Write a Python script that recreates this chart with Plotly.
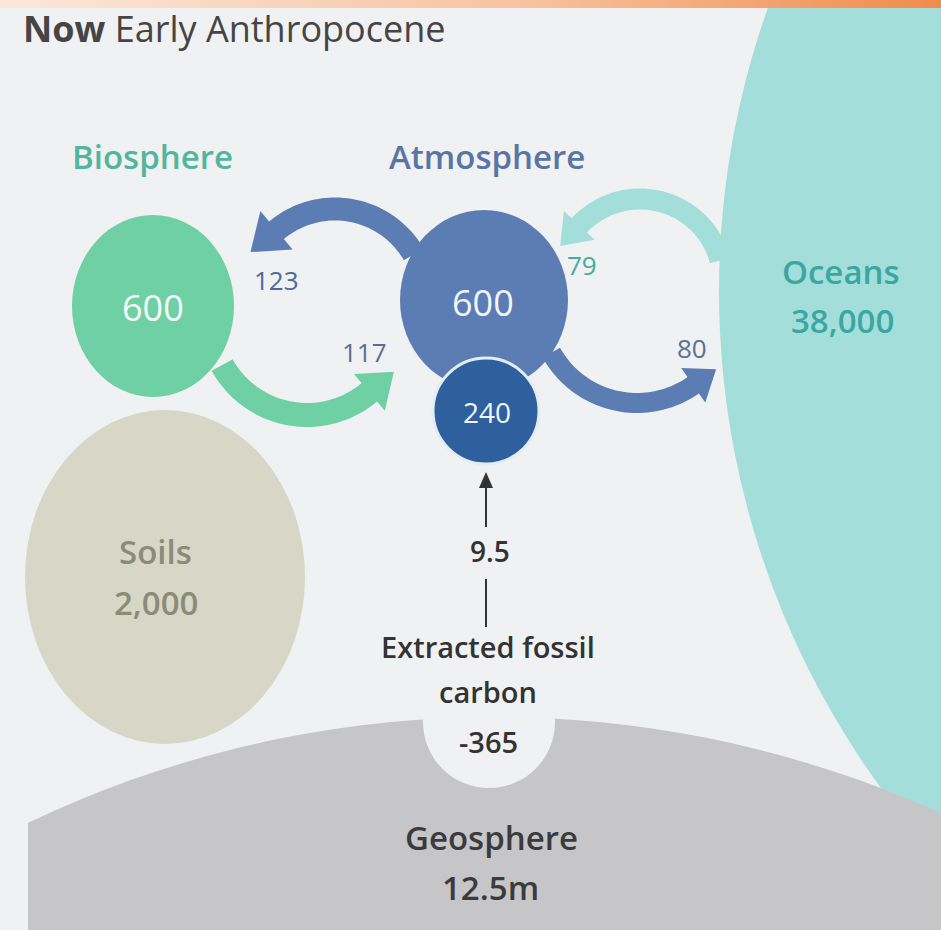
import numpy as np
import plotly.graph_objects as go

# --- data (carbon stocks and flows, GtC) ---
STOCK_NAMES = ["Biosphere", "Atmosphere", "Fossil CO2 in air", "Soils", "Oceans", "Geosphere", "Extracted fossil carbon"]
STOCK_VALUES = ["600", "600", "240", "2,000", "38,000", "12.5m", "-365"]
FLUX_NAMES = ["atmosphere->biosphere", "biosphere->atmosphere", "oceans->atmosphere", "atmosphere->oceans", "fossil->atmosphere"]
FLUX_VALUES = ["123", "117", "79", "80", "9.5"]
TITLE_BOLD = "Now"
TITLE_REST = "Early Anthropocene"

# --- layout (pixel space, y down) ---
W, H = 941, 930
FONT = "Open Sans"
BG = "#f0f1f2"
# circles: name -> (cx, cy, rx, ry, colour)
CIRCLES = {
    "Oceans": (1563, 291, 844, 844, "#a4dedb"),
    "Geosphere": (495, 1800, 1083, 1083, "#c6c6c9"),
    "Notch": (489, 722, 66, 66, BG),
    "Soils": (165, 577, 140, 167, "#d6d7c7"),
    "Biosphere": (153, 306, 81, 91, "#6fd0a5"),
    "Atmosphere": (484, 300, 84, 90, "#5b7db4"),
    "Fossil CO2 in air": (486, 411, 53, 53, "#2f609e"),
}
# arrows: (cx, cy, r, width, theta0, theta1, head_len, head_halfwidth, colour)
ARROWS = [
    (335, 300, 91, 23, 30, 130, 34, 25, "#5b7db4"),
    (307, 318, 97, 24, 209, 310, 32, 24, "#6fd0a5"),
    (640, 282, 83, 21, 15, 137, 28, 21, "#a4dedb"),
    (637, 305, 98, 20, 209, 305, 28, 21, "#5b7db4"),
]


def arc_arrow(cx, cy, r, w, t0, t1, head_len, head_w, n=50):
    ts = np.radians(np.linspace(t0, t1, n))
    ro, ri = r + w / 2, r - w / 2
    outer = [(cx + ro * np.cos(t), cy - ro * np.sin(t)) for t in ts]
    inner = [(cx + ri * np.cos(t), cy - ri * np.sin(t)) for t in ts[::-1]]
    t = ts[-1]
    s = 1 if t1 > t0 else -1
    px, py = cx + r * np.cos(t), cy - r * np.sin(t)
    ux, uy = np.cos(t), -np.sin(t)
    tx, ty = -np.sin(t) * s, -np.cos(t) * s
    head = [(px + ux * head_w, py + uy * head_w),
            (px + tx * head_len, py + ty * head_len),
            (px - ux * head_w, py - uy * head_w)]
    pts = outer + head + inner
    return "M " + " L ".join(f"{x:.1f},{y:.1f}" for x, y in pts) + " Z"


def ellipse(name, line=None):
    cx, cy, rx, ry, col = CIRCLES[name]
    return dict(type="circle", xref="x", yref="y", x0=cx - rx, x1=cx + rx, y0=cy - ry, y1=cy + ry,
                fillcolor=col, line=line or dict(width=0), layer="below")


fig = go.Figure()

# orange strip at the very top
fig.add_trace(go.Scatter(x=[0, W, W, 0, 0], y=[0, 0, 8, 8, 0], mode="lines", fill="toself",
                         line=dict(width=0), hoverinfo="skip",
                         fillgradient=dict(type="horizontal",
                                           colorscale=[[0, "#fbe7da"], [0.55, "#f7c3a0"], [1, "#ef8c4c"]])))

shapes = [ellipse("Oceans"), ellipse("Geosphere"),
          dict(type="rect", xref="x", yref="y", x0=0, x1=28, y0=700, y1=H, fillcolor=BG,
               line=dict(width=0), layer="below"),
          ellipse("Notch"), ellipse("Soils")]
for cx, cy, r, w, t0, t1, hl, hw, col in ARROWS:
    shapes.append(dict(type="path", xref="x", yref="y", path=arc_arrow(cx, cy, r, w, t0, t1, hl, hw),
                       fillcolor=col, line=dict(width=0), layer="below"))
shapes += [ellipse("Biosphere"), ellipse("Atmosphere"),
           ellipse("Fossil CO2 in air", line=dict(color="#e4ecf4", width=3))]
# fossil flux arrow into the atmosphere
shapes.append(dict(type="line", xref="x", yref="y", x0=486, x1=486, y0=527, y1=485,
                   line=dict(color="#333333", width=2)))
shapes.append(dict(type="path", xref="x", yref="y", path="M 479,488 L 486,472 L 493,488 Z",
                   fillcolor="#333333", line=dict(width=0)))
shapes.append(dict(type="line", xref="x", yref="y", x0=486, x1=486, y0=579, y1=627,
                   line=dict(color="#333333", width=2)))

# (text, x, y, size, colour, weight, anchor)
texts = [
    (f"<b>{TITLE_BOLD}</b> {TITLE_REST}", 21, 28, 36, "#454545", 400, "left"),
    (STOCK_NAMES[0], 152, 156, 33, "#52b69d", 600, "center"),
    (STOCK_NAMES[1], 487, 156, 33, "#5875a4", 600, "center"),
    (STOCK_VALUES[0], 153, 307, 36, "#f4fbf8", 400, "center"),
    (STOCK_VALUES[1], 483, 302, 36, "#f2f5fa", 400, "center"),
    (STOCK_VALUES[2], 487, 412, 28, "#f2f5fa", 400, "center"),
    (STOCK_NAMES[4], 841, 271, 33, "#3aa8a2", 600, "center"),
    (STOCK_VALUES[4], 842, 320, 33, "#3aa8a2", 600, "center"),
    (STOCK_NAMES[3], 155, 551, 33, "#8a8b79", 600, "center"),
    (STOCK_VALUES[3], 156, 602, 33, "#8a8b79", 600, "center"),
    (STOCK_NAMES[5], 491, 837, 33, "#3b3b3d", 600, "center"),
    (STOCK_VALUES[5], 490, 887, 33, "#3b3b3d", 600, "center"),
    (FLUX_VALUES[0], 276, 280, 26, "#4b6a9b", 400, "center"),
    (FLUX_VALUES[1], 364, 352, 26, "#587091", 400, "center"),
    (FLUX_VALUES[2], 582, 265, 26, "#44ad9f", 400, "center"),
    (FLUX_VALUES[3], 692, 348, 26, "#587091", 400, "center"),
    (FLUX_VALUES[4], 490, 551, 28, "#333333", 600, "center"),
    ("Extracted fossil", 488, 646, 29, "#333333", 600, "center"),
    ("carbon", 488, 691, 29, "#333333", 600, "center"),
    (STOCK_VALUES[6], 488, 741, 29, "#333333", 600, "center"),
]
annotations = [dict(text=t, x=x, y=y, xref="x", yref="y", showarrow=False, xanchor=a, yanchor="middle",
                    font=dict(family=FONT, size=s, color=c, weight=wt), align="center")
               for t, x, y, s, c, wt, a in texts]

fig.update_layout(width=W, height=H, margin=dict(l=0, r=0, t=0, b=0),
                  paper_bgcolor=BG, plot_bgcolor=BG, showlegend=False,
                  shapes=shapes, annotations=annotations,
                  xaxis=dict(range=[0, W], visible=False, fixedrange=True),
                  yaxis=dict(range=[H, 0], visible=False, fixedrange=True))
fig.write_html("out.html", config={"displayModeBar": False},
               post_script="document.body.style.margin='0px';document.body.style.overflow='hidden';")
